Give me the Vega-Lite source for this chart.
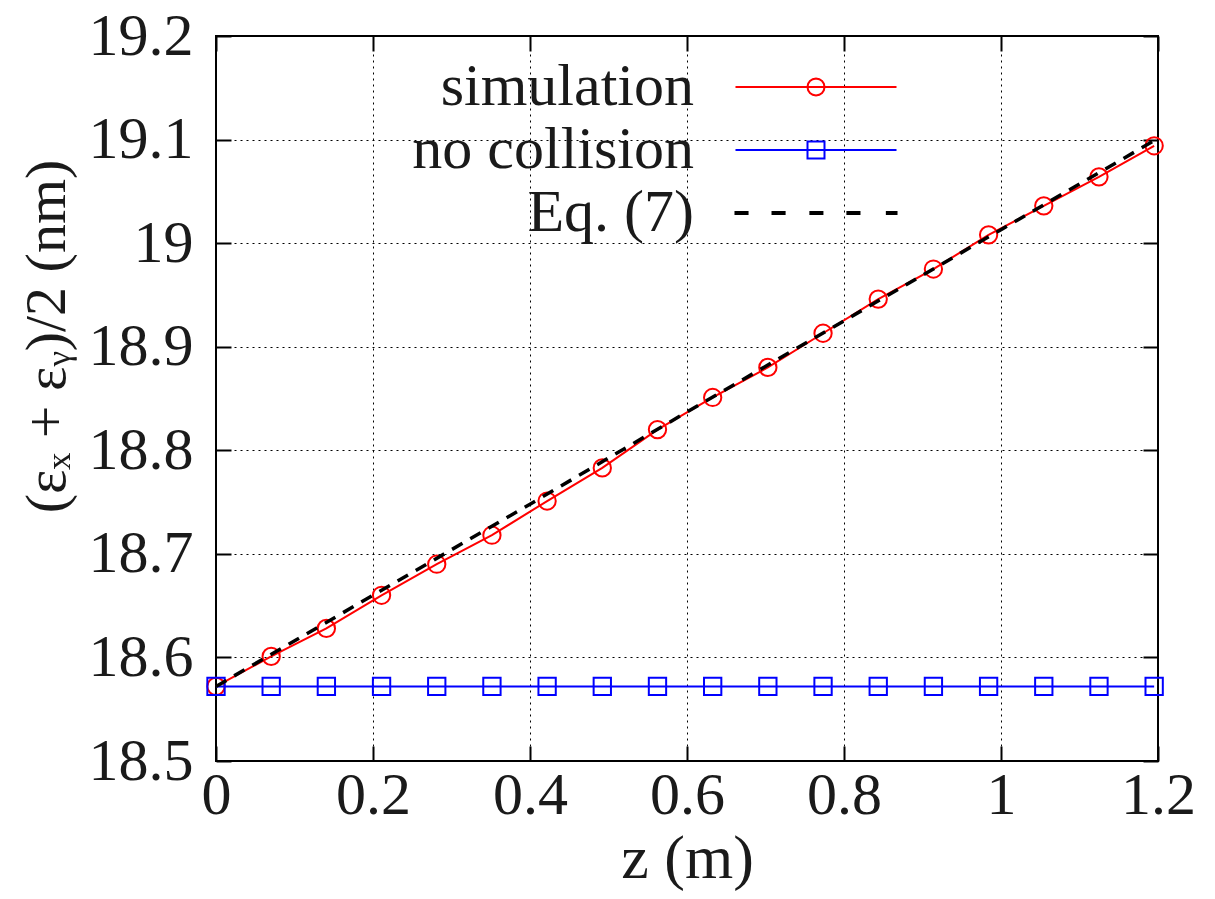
{
  "$schema": "https://vega.github.io/schema/vega-lite/v6.json",
  "width": 942,
  "height": 725,
  "autosize": {"type": "none"},
  "padding": {"left": 216, "top": 36, "right": 57, "bottom": 138},
  "background": "white",
  "config": {
    "view": {"stroke": "black", "strokeWidth": 2},
    "font": "Liberation Serif"
  },
  "data": {
    "values": [
      {"series": "simulation", "z": 0, "v": 18.572},
      {"series": "simulation", "z": 0.0703, "v": 18.601},
      {"series": "simulation", "z": 0.1406, "v": 18.628},
      {"series": "simulation", "z": 0.2109, "v": 18.660},
      {"series": "simulation", "z": 0.2812, "v": 18.690},
      {"series": "simulation", "z": 0.3515, "v": 18.718},
      {"series": "simulation", "z": 0.4218, "v": 18.751},
      {"series": "simulation", "z": 0.4921, "v": 18.783},
      {"series": "simulation", "z": 0.5624, "v": 18.820},
      {"series": "simulation", "z": 0.6327, "v": 18.851},
      {"series": "simulation", "z": 0.703, "v": 18.880},
      {"series": "simulation", "z": 0.7733, "v": 18.913},
      {"series": "simulation", "z": 0.8436, "v": 18.946},
      {"series": "simulation", "z": 0.9139, "v": 18.975},
      {"series": "simulation", "z": 0.9842, "v": 19.008},
      {"series": "simulation", "z": 1.0545, "v": 19.036},
      {"series": "simulation", "z": 1.1248, "v": 19.064},
      {"series": "simulation", "z": 1.1951, "v": 19.094},
      {"series": "no collision", "z": 0, "v": 18.572},
      {"series": "no collision", "z": 0.0703, "v": 18.572},
      {"series": "no collision", "z": 0.1406, "v": 18.572},
      {"series": "no collision", "z": 0.2109, "v": 18.572},
      {"series": "no collision", "z": 0.2812, "v": 18.572},
      {"series": "no collision", "z": 0.3515, "v": 18.572},
      {"series": "no collision", "z": 0.4218, "v": 18.572},
      {"series": "no collision", "z": 0.4921, "v": 18.572},
      {"series": "no collision", "z": 0.5624, "v": 18.572},
      {"series": "no collision", "z": 0.6327, "v": 18.572},
      {"series": "no collision", "z": 0.703, "v": 18.572},
      {"series": "no collision", "z": 0.7733, "v": 18.572},
      {"series": "no collision", "z": 0.8436, "v": 18.572},
      {"series": "no collision", "z": 0.9139, "v": 18.572},
      {"series": "no collision", "z": 0.9842, "v": 18.572},
      {"series": "no collision", "z": 1.0545, "v": 18.572},
      {"series": "no collision", "z": 1.1248, "v": 18.572},
      {"series": "no collision", "z": 1.1951, "v": 18.572},
      {"series": "Eq. (7)", "z": 0, "v": 18.572},
      {"series": "Eq. (7)", "z": 0.2, "v": 18.660},
      {"series": "Eq. (7)", "z": 0.4, "v": 18.748},
      {"series": "Eq. (7)", "z": 0.6, "v": 18.837},
      {"series": "Eq. (7)", "z": 0.8, "v": 18.925},
      {"series": "Eq. (7)", "z": 1.0, "v": 19.013},
      {"series": "Eq. (7)", "z": 1.1951, "v": 19.099}
    ]
  },
  "resolve": {"axis": {"x": "independent", "y": "independent"}},
  "layer": [
    {
      "transform": [{"filter": "datum.series === 'simulation'"}],
      "mark": {"type": "line", "color": "#ff0000", "strokeWidth": 2},
      "encoding": {
        "x": {
          "field": "z", "type": "quantitative",
          "scale": {"domain": [0, 1.2], "nice": false, "zero": false},
          "axis": {
            "orient": "bottom",
            "values": [0, 0.2, 0.4, 0.6, 0.8, 1, 1.2],
            "format": "~g",
            "grid": true, "gridColor": "black", "gridDash": [2, 4], "gridWidth": 1, "gridOpacity": 1,
            "domain": false,
            "ticks": true, "tickSize": -15, "tickWidth": 2, "tickColor": "black",
            "labelFont": "Liberation Serif", "labelFontSize": 60, "labelColor": "#1a1a1a",
            "labelPadding": 20, "labelFlush": false, "labelOverlap": false,
            "title": "z (m)", "titleFont": "Liberation Serif", "titleFontSize": 62,
            "titleFontWeight": "normal", "titleColor": "#1a1a1a", "titlePadding": 3
          }
        },
        "y": {
          "field": "v", "type": "quantitative",
          "scale": {"domain": [18.5, 19.2], "nice": false, "zero": false},
          "axis": {
            "orient": "left",
            "values": [18.5, 18.6, 18.7, 18.8, 18.9, 19, 19.1, 19.2],
            "format": "~g",
            "grid": true, "gridColor": "black", "gridDash": [2, 4], "gridWidth": 1, "gridOpacity": 1,
            "domain": false,
            "ticks": true, "tickSize": -15, "tickWidth": 2, "tickColor": "black",
            "labelFont": "Liberation Serif", "labelFontSize": 60, "labelColor": "#1a1a1a",
            "labelPadding": 38, "labelFlush": false, "labelOverlap": false,
            "title": "(εₓ + εᵧ)/2 (nm)", "titleFont": "Liberation Serif", "titleFontSize": 58,
            "titleFontWeight": "normal", "titleColor": "#1a1a1a", "titlePadding": 12,
            "titleAnchor": "middle", "titleY": 300
          }
        }
      }
    },
    {
      "transform": [{"filter": "datum.series === 'simulation'"}],
      "mark": {"type": "point", "shape": "circle", "filled": false, "color": "#ff0000", "strokeWidth": 2, "size": 300, "opacity": 1},
      "encoding": {
        "x": {"field": "z", "type": "quantitative", "axis": null},
        "y": {"field": "v", "type": "quantitative", "axis": null}
      }
    },
    {
      "transform": [{"filter": "datum.series === 'no collision'"}],
      "mark": {"type": "line", "color": "#0000ff", "strokeWidth": 2},
      "encoding": {
        "x": {"field": "z", "type": "quantitative", "axis": null},
        "y": {"field": "v", "type": "quantitative", "axis": null}
      }
    },
    {
      "transform": [{"filter": "datum.series === 'no collision'"}],
      "mark": {"type": "point", "shape": "square", "filled": false, "color": "#0000ff", "strokeWidth": 2, "size": 300, "opacity": 1},
      "encoding": {
        "x": {"field": "z", "type": "quantitative", "axis": null},
        "y": {"field": "v", "type": "quantitative", "axis": null}
      }
    },
    {
      "transform": [{"filter": "datum.series === 'Eq. (7)'"}],
      "mark": {"type": "line", "color": "black", "strokeWidth": 3.5, "strokeDash": [12, 9]},
      "encoding": {
        "x": {
          "field": "z", "type": "quantitative",
          "axis": {
            "orient": "top", "values": [0, 0.2, 0.4, 0.6, 0.8, 1, 1.2],
            "grid": false, "domain": false, "labels": false,
            "ticks": true, "tickSize": -15, "tickWidth": 2, "tickColor": "black", "title": null
          }
        },
        "y": {
          "field": "v", "type": "quantitative",
          "axis": {
            "orient": "right", "values": [18.5, 18.6, 18.7, 18.8, 18.9, 19, 19.1, 19.2],
            "grid": false, "domain": false, "labels": false,
            "ticks": true, "tickSize": -15, "tickWidth": 2, "tickColor": "black", "title": null
          }
        }
      }
    },
    {
      "transform": [{"filter": "false"}],
      "mark": {"type": "point", "filled": false, "opacity": 1},
      "encoding": {
        "x": {"field": "z", "type": "quantitative", "axis": null},
        "y": {"field": "v", "type": "quantitative", "axis": null},
        "shape": {
          "field": "series", "type": "nominal",
          "scale": {
            "domain": ["simulation", "no collision", "Eq. (7)"],
            "range": [
              "M-2.516,0L2.516,0M0.2656,0L0.2454,0.1016L0.1878,0.1878L0.1016,0.2454L0,0.2656L-0.1016,0.2454L-0.1878,0.1878L-0.2454,0.1016L-0.2656,0L-0.2454,-0.1016L-0.1878,-0.1878L-0.1016,-0.2454L0,-0.2656L0.1016,-0.2454L0.1878,-0.1878L0.2454,-0.1016Z",
              "M-2.516,0L2.516,0M-0.2656,-0.2656L0.2656,-0.2656L0.2656,0.2656L-0.2656,0.2656Z",
              "M-2.516,-0.03L-2.139,-0.03L-2.139,0.03L-2.516,0.03ZM-1.359,-0.03L-0.981,-0.03L-0.981,0.03L-1.359,0.03ZM-0.176,-0.03L0.201,-0.03L0.201,0.03L-0.176,0.03ZM0.981,-0.03L1.359,-0.03L1.359,0.03L0.981,0.03ZM2.214,-0.03L2.516,-0.03L2.516,0.03L2.214,0.03Z"
            ]
          },
          "legend": {
            "title": null,
            "orient": "none",
            "legendX": 567,
            "legendY": 18,
            "padding": 0,
            "labelAlign": "right",
            "labelOffset": -155,
            "labelLimit": 0,
            "labelFont": "Liberation Serif",
            "labelFontSize": 60,
            "labelColor": "#1a1a1a",
            "rowPadding": 0,
            "symbolSize": 4096,
            "symbolStrokeWidth": 2,
            "symbolFillColor": "transparent"
          }
        },
        "stroke": {
          "field": "series", "type": "nominal",
          "scale": {"domain": ["simulation", "no collision", "Eq. (7)"], "range": ["#ff0000", "#0000ff", "black"]}
        }
      }
    }
  ]
}
